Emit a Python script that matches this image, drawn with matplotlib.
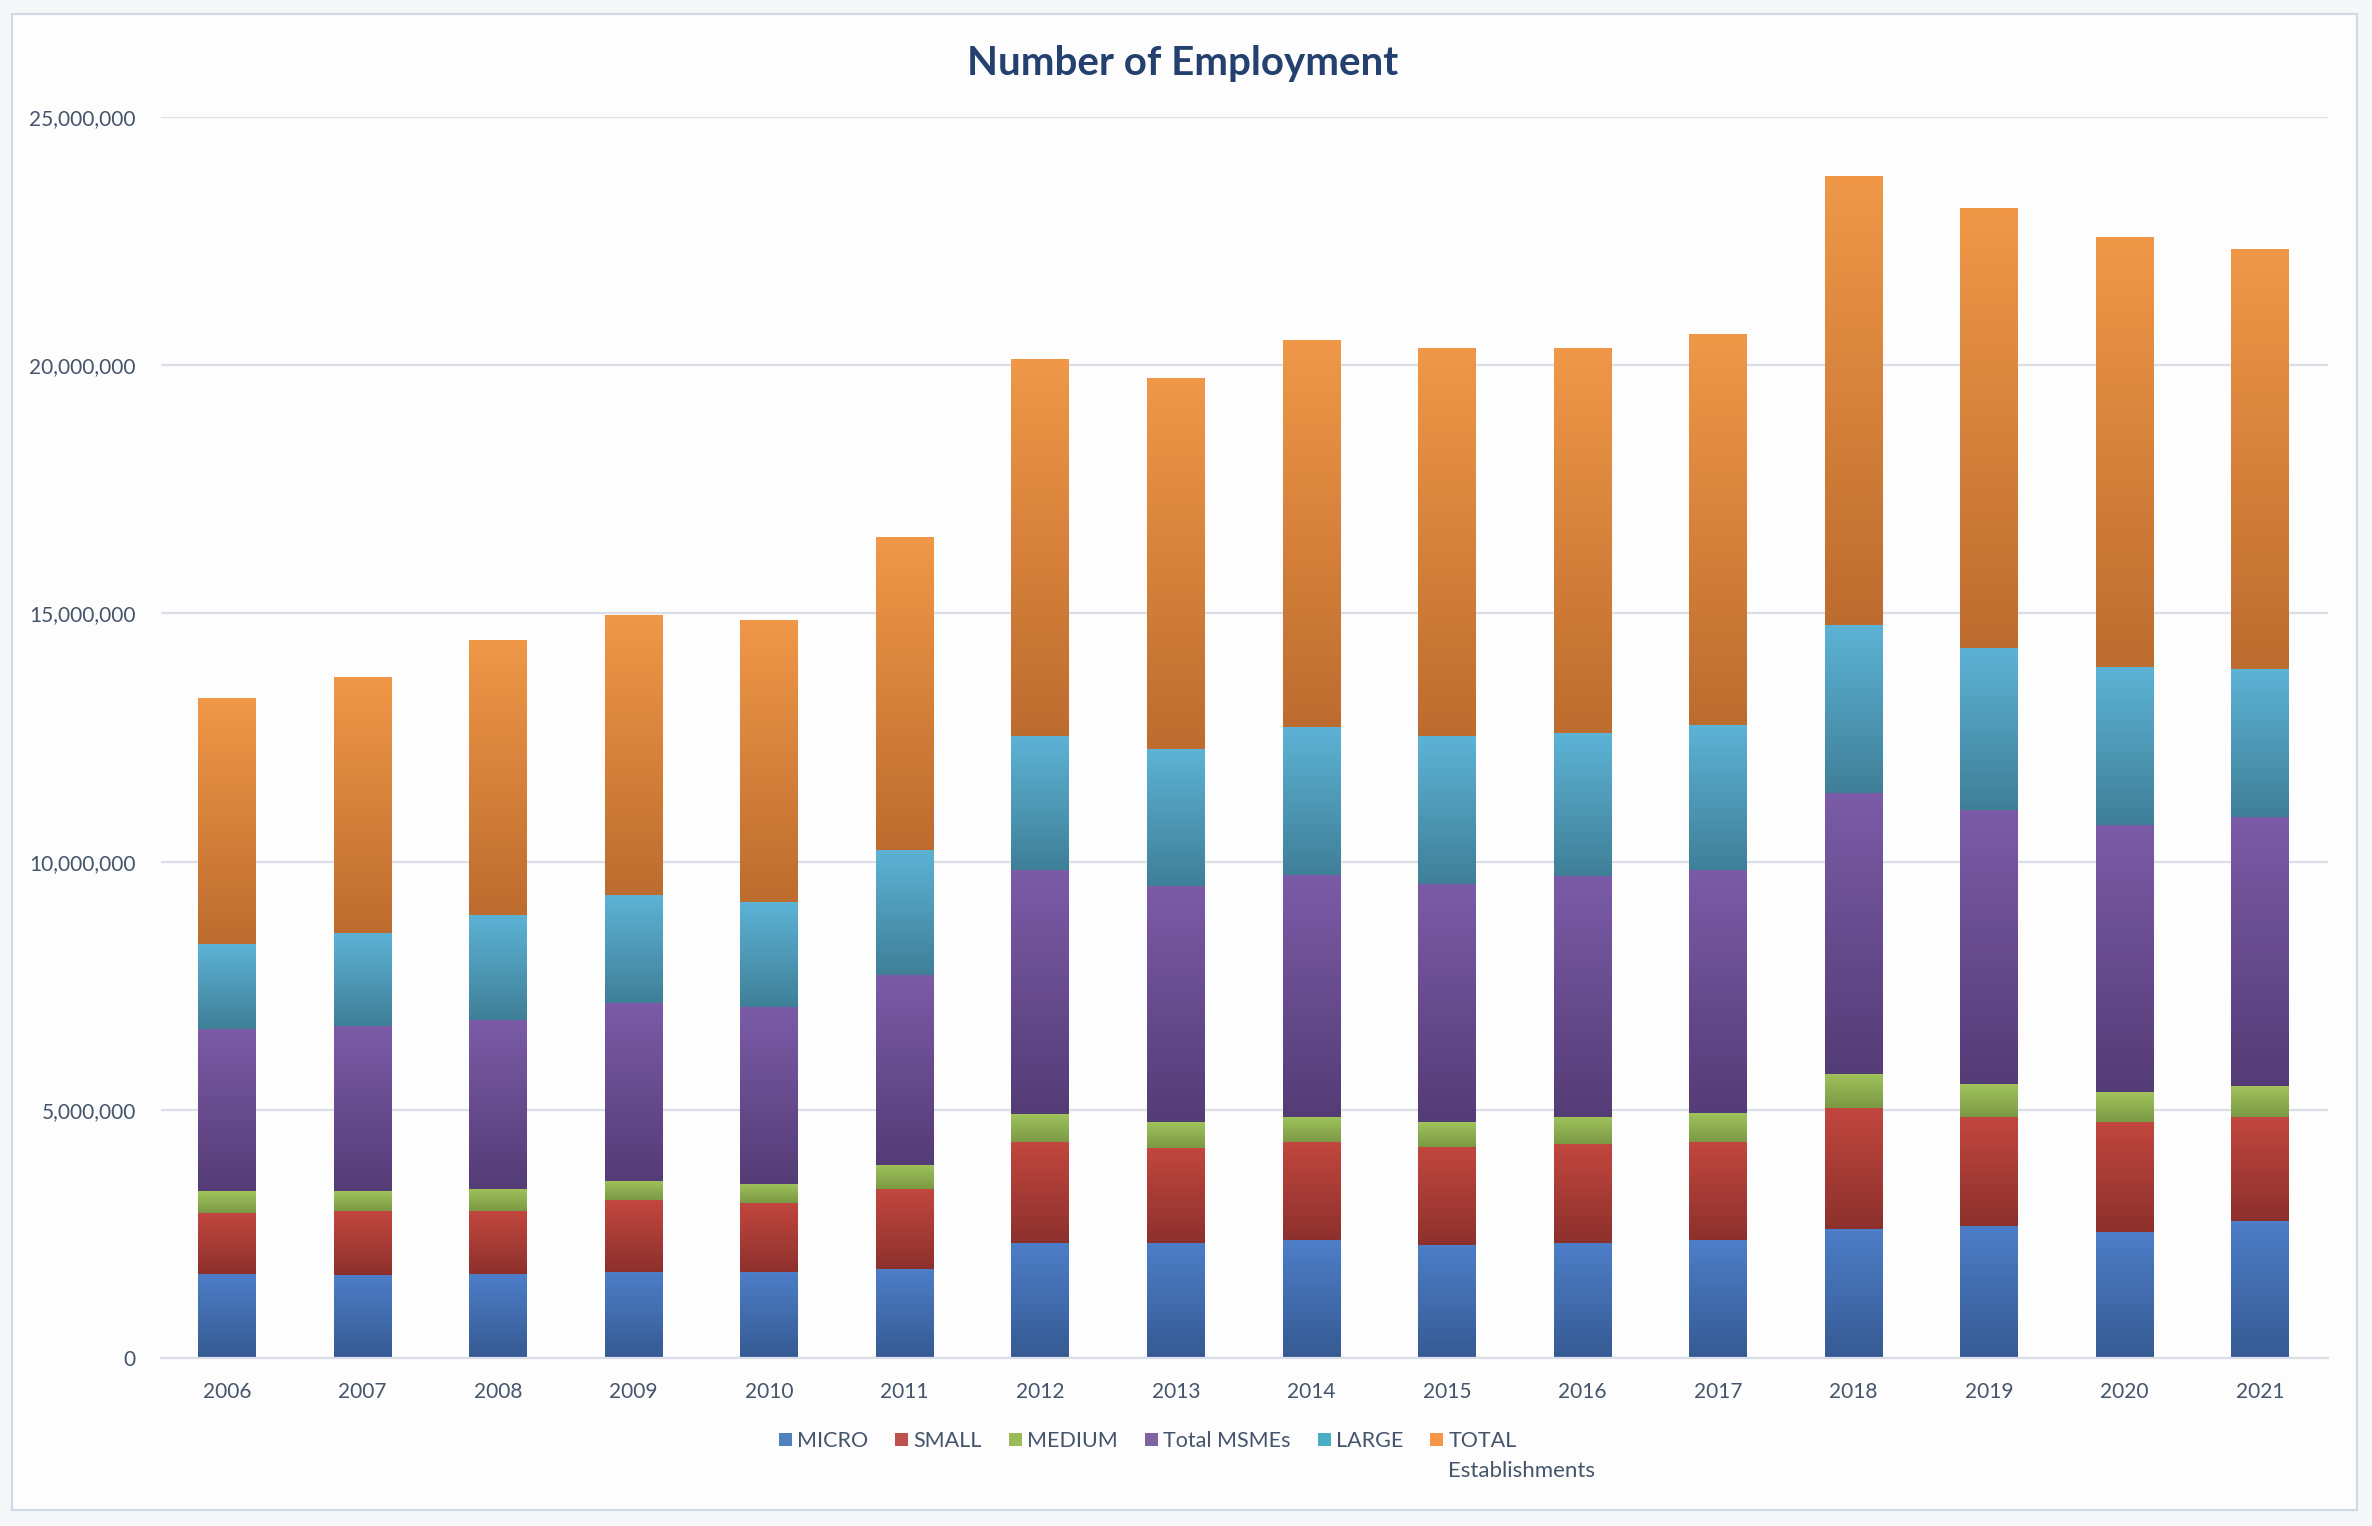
import matplotlib
matplotlib.use('Agg')
import matplotlib.pyplot as plt
import numpy as np
from matplotlib.colors import LinearSegmentedColormap
from matplotlib.patches import Rectangle
from matplotlib.ticker import FuncFormatter, MultipleLocator

# ---------------- data ----------------
years = ['2006', '2007', '2008', '2009', '2010', '2011', '2012', '2013',
         '2014', '2015', '2016', '2017', '2018', '2019', '2020', '2021']
micro = [1700000, 1680000, 1700000, 1740000, 1740000, 1800000, 2310000, 2310000,
         2370000, 2270000, 2310000, 2370000, 2590000, 2650000, 2540000, 2760000]
small = [1230000, 1280000, 1260000, 1440000, 1380000, 1600000, 2050000, 1930000,
         1990000, 1990000, 2000000, 1990000, 2440000, 2210000, 2220000, 2100000]
medium = [430000, 400000, 450000, 390000, 390000, 490000, 560000, 520000,
          500000, 500000, 550000, 570000, 700000, 660000, 590000, 610000]
total_msmes = [3270000, 3320000, 3400000, 3590000, 3570000, 3830000, 4920000, 4740000,
               4880000, 4790000, 4850000, 4900000, 5660000, 5510000, 5380000, 5430000]
large = [1700000, 1880000, 2110000, 2160000, 2100000, 2520000, 2690000, 2770000,
         2970000, 2980000, 2880000, 2920000, 3380000, 3280000, 3200000, 2980000]
total_est = [4960000, 5160000, 5550000, 5650000, 5680000, 6290000, 7600000, 7480000,
             7790000, 7810000, 7750000, 7870000, 9050000, 8860000, 8650000, 8470000]

series_names = ['MICRO', 'SMALL', 'MEDIUM', 'Total MSMEs', 'LARGE', 'TOTAL']
series_values = [micro, small, medium, total_msmes, large, total_est]
# (top colour, bottom colour) of each segment's vertical gradient
series_colors = [('#4d7ec8', '#365a93'),
                 ('#c2473f', '#8d302c'),
                 ('#a0c35b', '#7b9945'),
                 ('#7b5ba7', '#543c76'),
                 ('#5db3d5', '#3f7f98'),
                 ('#f09848', '#bd6c2f')]
legend_colors = ['#4f81bd', '#c0504d', '#9bbb59', '#8064a2', '#4bacc6', '#f79646']

# ---------------- figure ----------------
plt.rcParams['font.family'] = ['Lato', 'DejaVu Sans']
W, H = 2372, 1526
fig = plt.figure(figsize=(W / 100, H / 100), dpi=100, facecolor='#f6f7f9')

frame = Rectangle((12 / W, 1 - 1510 / H), (2357 - 12) / W, (1510 - 14) / H,
                  transform=fig.transFigure, facecolor='#fdfdfd',
                  edgecolor='#d3d9e4', lw=1.6, zorder=-5)
fig.patches.append(frame)

ax = fig.add_axes([161 / W, 1 - 1358 / H, (2328 - 161) / W, (1358 - 117) / H])
ax.set_facecolor('none')

x = np.arange(len(years))
bottom = np.zeros(len(years))
grad = np.linspace(0, 1, 256).reshape(-1, 1)
handles = []
for name, vals, (ctop, cbot), lc in zip(series_names, series_values, series_colors, legend_colors):
    vals = np.array(vals, dtype=float)
    bars = ax.bar(x, vals, bottom=bottom, width=0.425, color=cbot, label=name,
                  zorder=2, linewidth=0)
    cmap = LinearSegmentedColormap.from_list(name, [cbot, ctop])
    for p in bars.patches:
        bb = p.get_bbox()
        im = ax.imshow(grad, extent=[bb.x0, bb.x1, bb.y0, bb.y1], origin='lower',
                       aspect='auto', cmap=cmap, interpolation='bilinear', zorder=2.1)
        im.set_clip_path(p)
    handles.append(Rectangle((0, 0), 1, 1, facecolor=lc, edgecolor='none'))
    bottom = bottom + vals

ax.set_xlim(-0.487, len(years) - 0.5)
ax.set_ylim(0, 25000000)
ax.yaxis.set_major_locator(MultipleLocator(5000000))
ax.yaxis.set_major_formatter(FuncFormatter(lambda v, p: f'{v:,.0f}'))
ax.set_xticks(x)
ax.set_xticklabels(years)

ax.yaxis.grid(True, color='#d9dee8', lw=1.6)
ax.set_axisbelow(True)
for s in ['top', 'right', 'left']:
    ax.spines[s].set_visible(False)
ax.spines['bottom'].set_color('#d9dee8')
ax.spines['bottom'].set_linewidth(1.6)

ax.tick_params(axis='both', length=0, labelsize=15, labelcolor='#44546a')
ax.tick_params(axis='y', pad=18)
ax.tick_params(axis='x', pad=17)

fig.text(0.4985, 1 - 63 / H, 'Number of Employment', ha='center', va='center',
         fontsize=29, fontweight='bold', color='#23406e')

leg = fig.legend(handles, series_names, loc='center left',
                 bbox_to_anchor=(779 / W, 1 - 1441 / H), ncol=6, frameon=False,
                 fontsize=15.5, handlelength=0.6, handleheight=0.6, handletextpad=0.25,
                 columnspacing=1.25, borderpad=0, borderaxespad=0)
for t in leg.get_texts():
    t.set_color('#44546a')

fig.canvas.draw()
renderer = fig.canvas.get_renderer()
tb = leg.get_texts()[-1].get_window_extent(renderer)
fig.text(tb.x0 / W, (tb.y0 - 10) / H, 'Establishments', ha='left', va='top',
         fontsize=16, color='#44546a')

fig.savefig('out.png', dpi=100, facecolor=fig.get_facecolor())
